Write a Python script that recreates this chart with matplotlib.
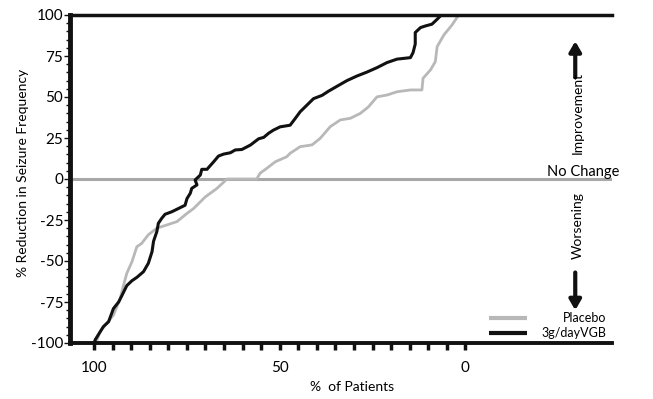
import matplotlib
matplotlib.use("Agg")
import matplotlib.pyplot as plt
from matplotlib.ticker import FixedLocator, MultipleLocator

plt.rcParams['font.family'] = ['Lato', 'DejaVu Sans']

# % of patients (x) vs % reduction in seizure frequency (y)
vgb_x = [100, 99.7, 97.5, 96.1, 94.8, 93.4, 92.5, 91.2, 89.8, 88.5, 86.7, 85.4,
         84.4, 84.0, 83.1, 82.7, 81.8, 80.9, 79.1, 77.3, 75.5, 75.0, 74.1, 73.7,
         72.3, 72.8, 71.4, 71.0, 69.6, 67.8, 66.5, 65.1, 63.3, 62.0, 60.2, 57.9,
         55.7, 54.3, 53.0, 51.7, 49.9, 47.2, 45.8, 44.5, 42.7, 40.9, 38.6, 36.9,
         34.6, 31.9, 29.2, 26.5, 23.8, 21.1, 18.4, 14.8, 14.1, 13.5, 13.5, 12.1,
         10.8, 9.0, 7.6, 6.5]
vgb_y = [-100, -98, -90, -87, -79, -75, -71, -65, -62, -60, -56.5, -51.4,
         -44.3, -38, -32, -27, -24, -21.5, -20, -18, -16, -12, -8.7, -5.7,
         -3.6, -0.6, 2.4, 5.9, 5.9, 10.5, 14, 15.2, 16, 17.7, 18, 20.7,
         24.5, 25.4, 27.9, 29.8, 31.8, 32.8, 37, 41, 45, 49, 51, 53.5,
         56.5, 60, 62.8, 65.2, 67.9, 71, 73.1, 74, 77, 82.3, 89.3, 92.3,
         93.3, 94.4, 97.4, 100]

pla_x = [99.5, 98.4, 94.8, 93.0, 92.1, 91.2, 89.8, 88.5, 87.2, 85.4, 83.1, 80.4,
         77.7, 75.0, 73.2, 70.1, 66.9, 64.2, 56.2, 55.3, 53.5, 51.2, 48.1, 47.2,
         44.5, 41.3, 39.1, 36.4, 33.7, 31.0, 28.3, 26.1, 23.8, 21.1, 18.4, 14.8,
         11.7, 11.4, 9.4, 8.1, 7.6, 5.8, 3.6, 1.8]
pla_y = [-100, -93, -83, -73, -65, -57.5, -50.4, -41.3, -39.3, -34, -30, -28,
         -26, -21, -18, -11, -5.7, 0, 0, 3.5, 6.5, 10.5, 13.6, 15.7,
         19.7, 20.8, 24.8, 31.9, 36, 37, 40, 44, 50.1, 51.2, 53.2, 54.3,
         54.3, 61.4, 66.5, 71.5, 80.7, 87.8, 93.9, 100]

x_major = [100, 50, 0]
x_minor = list(range(0, 101, 5))
y_major = [-100, -75, -50, -25, 0, 25, 50, 75, 100]

black = '#111111'
gray = '#b8b8b8'

fig = plt.figure(figsize=(6.53, 3.99), dpi=100)
ax = fig.add_axes([70 / 653, 56 / 399, 542 / 653, 328 / 399])

ax.axhline(0, color='#a8a8a8', lw=2.2, zorder=1)
ax.plot(pla_x, pla_y, color=gray, lw=2.0, zorder=2)
ax.plot(vgb_x, vgb_y, color=black, lw=2.2, zorder=3)

ax.set_xlim(106.5, -39.5)
ax.set_ylim(-100, 100)

ax.spines['right'].set_visible(False)
ax.spines['left'].set_linewidth(3.5)
ax.spines['top'].set_linewidth(2.5)
ax.spines['bottom'].set_linewidth(2.8)
for s in ax.spines.values():
    s.set_color(black)

ax.xaxis.set_major_locator(FixedLocator(x_major))
ax.xaxis.set_minor_locator(FixedLocator(x_minor))
ax.set_xticklabels([str(v) for v in x_major])
ax.tick_params(axis='x', which='both', direction='out', length=5, width=2.5,
               color=black, labelsize=11, pad=8)
ax.yaxis.set_major_locator(FixedLocator(y_major))
ax.yaxis.set_minor_locator(MultipleLocator(5))
ax.set_yticklabels([str(v) for v in y_major])
ax.tick_params(axis='y', which='major', direction='out', length=4, width=1,
               color=black, labelsize=11, pad=1)
ax.tick_params(axis='y', which='minor', direction='out', length=3, width=1,
               color=black)

ax.set_ylabel('% Reduction in Seizure Frequency', fontsize=10)
ax.yaxis.set_label_coords(-0.075, 0.52)
ax.set_xlabel('%  of Patients', fontsize=10)
ax.xaxis.set_label_coords(0.52, -0.115)

# direction annotations on the right
ax.annotate('', xy=(-29.6, 84), xytext=(-29.6, 62),
            arrowprops=dict(arrowstyle='-|>,head_width=0.35,head_length=0.6',
                            lw=3, color=black, shrinkA=0, shrinkB=0))
ax.annotate('', xy=(-29.6, -80), xytext=(-29.6, -57),
            arrowprops=dict(arrowstyle='-|>,head_width=0.35,head_length=0.6',
                            lw=3, color=black, shrinkA=0, shrinkB=0))
ax.text(-30.3, 40, 'Improvement', rotation=90, ha='center', va='center',
        fontsize=10)
ax.text(-30.3, -28.5, 'Worsening', rotation=90, ha='center', va='center',
        fontsize=10)
ax.text(-41.5, 4.5, 'No Change', ha='right', va='center', fontsize=10.5,
        clip_on=False)

# legend
ax.plot([0.773, 0.843], [0.076, 0.076], transform=ax.transAxes, color=gray,
        lw=3, solid_capstyle='butt')
ax.plot([0.773, 0.843], [0.031, 0.031], transform=ax.transAxes, color=black,
        lw=3, solid_capstyle='butt')
ax.text(0.989, 0.076, 'Placebo', transform=ax.transAxes, ha='right',
        va='center', fontsize=9)
ax.text(0.989, 0.031, '3g/dayVGB', transform=ax.transAxes, ha='right',
        va='center', fontsize=9)

fig.savefig('out.png', dpi=100)
